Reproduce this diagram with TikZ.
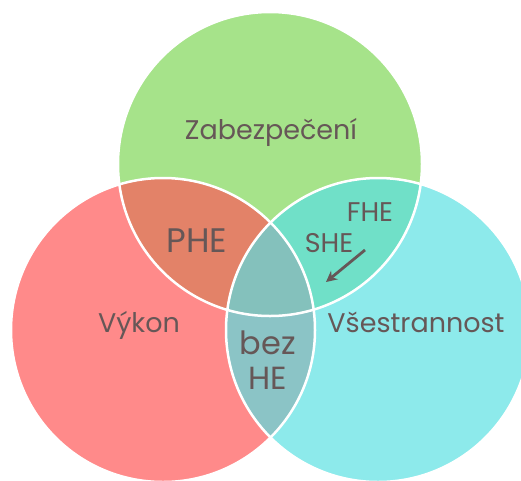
\documentclass[tikz,border=0pt]{standalone}
\usepackage{fontspec}
\setmainfont{Poppins}
\usepackage{xcolor}
\definecolor{zabgreen}{HTML}{A6E38A}
\definecolor{vykred}{HTML}{FF8A8A}
\definecolor{vsecyan}{HTML}{8DEAEB}
\definecolor{phered}{HTML}{E38268}
\definecolor{shegreen}{HTML}{70E0C8}
\definecolor{bezteal}{HTML}{8BC4C6}
\definecolor{midteal}{HTML}{84C1BC}
\definecolor{txtbrown}{HTML}{665757}
\usepackage{tikz}
\usetikzlibrary{arrows.meta}
\tikzset{
  vline/.style ={draw=white, line width=2.5pt},
  vlbl/.style  ={text=txtbrown, inner sep=0pt, anchor=base, font=\fontsize{27}{31}\selectfont},
  vlblb/.style ={text=txtbrown, inner sep=0pt, align=center, font=\fontsize{32}{35}\selectfont},
  varr/.style  ={-{Stealth[length=11pt, width=11pt]}, line width=2.8pt, color=txtbrown},
}

\begin{document}
\begin{tikzpicture}[x=1pt, y=-1pt]
  \useasboundingbox (0,0) rectangle (521,480);
  \coordinate (cz) at (270,164);
  \coordinate (cv) at (163,330);
  \coordinate (cs) at (378,330);
  % three sets
  \fill[zabgreen] (cz) circle (152pt);
  \fill[vykred] (cv) circle (152pt);
  \fill[vsecyan] (cs) circle (152pt);
  % overlaps
  \begin{scope}
    \clip (cz) circle (152pt);
    \fill[phered] (cv) circle (152pt);
    \fill[shegreen] (cs) circle (152pt);
  \end{scope}
  \begin{scope}
    \clip (cv) circle (152pt);
    \fill[bezteal] (cs) circle (152pt);
  \end{scope}
  \begin{scope}
    \clip (cz) circle (152pt);
    \clip (cv) circle (152pt);
    \fill[midteal] (cs) circle (152pt);
  \end{scope}
  \draw[vline] (cz) circle (152pt);
  \draw[vline] (cv) circle (152pt);
  \draw[vline] (cs) circle (152pt);
  % labels
  \node[vlbl] (zab) at (271,139) {Zabezpečení};
  \node[vlbl] (vyk) at (139,332) {Výkon};
  \node[vlbl] (vse) at (416,332) {Všestrannost};
  \node[vlbl, font=\fontsize{34}{38}\selectfont] (phe) at (197,252) {PHE};
  \node[vlbl] (fhe) at (370,221) {FHE};
  \node[vlbl] (she) at (329,252) {SHE};
  \node[vlblb] (bez) at (268,360) {bez\\HE};
  \coordinate (sheTail) at (365,250);
  \coordinate (sheTip) at (326,282);
  \draw[varr] (sheTail) -- (sheTip);
\end{tikzpicture}
\end{document}
